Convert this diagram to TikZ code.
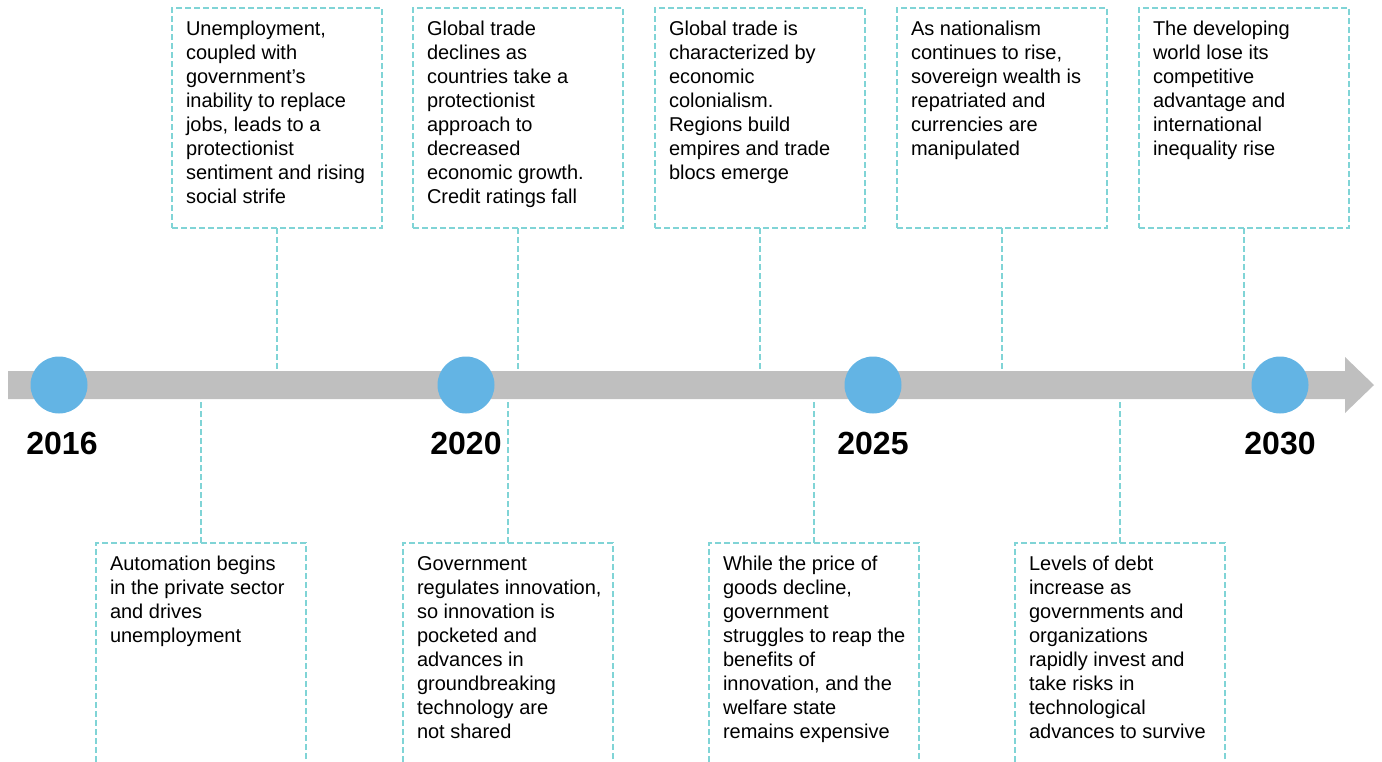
\documentclass[tikz,border=0pt]{standalone}
\usepackage{fontspec}
\setmainfont{Liberation Sans}
\definecolor{bargray}{HTML}{BFBFBF}
\definecolor{dotblue}{HTML}{63B4E4}
\definecolor{dashteal}{HTML}{80D4D6}
\newcommand{\evtext}[2]{\parbox[t][#1][t]{182pt}{\raggedright\hyphenpenalty=10000\rule{0pt}{27.5pt}#2}}

\begin{document}
\begin{tikzpicture}[x=1pt, y=-1pt,
    event/.style={draw=dashteal, line width=1.5pt, dash pattern=on 6pt off 3pt,
        anchor=north west, inner xsep=14pt, inner ysep=0pt, outer sep=0pt,
        font=\fontsize{20}{24}\selectfont},
    link/.style={draw=dashteal, line width=1.5pt, dash pattern=on 6pt off 3pt},
    dot/.style={circle, fill=dotblue, minimum size=57pt, inner sep=0pt},
    year/.style={font=\fontsize{32}{38}\selectfont\bfseries}]
    \useasboundingbox (0,0) rectangle (1382,761);
    \clip (0,0) rectangle (1382,761);
    \coordinate (axis) at (0,385);

    % above the bar
    \node[event](u1) at (172,8)  {\evtext{220pt}{Unemployment,\\ coupled with\\ government’s\\ inability to replace\\ jobs, leads to a\\ protectionist\\ sentiment and rising\\ social strife}};
    \node[event](u2) at (413,8)  {\evtext{220pt}{Global trade\\ declines as\\ countries take a\\ protectionist\\ approach to\\ decreased\\ economic growth.\\ Credit ratings fall}};
    \node[event](u3) at (655,8)  {\evtext{220pt}{Global trade is\\ characterized by\\ economic\\ colonialism.\\ Regions build\\ empires and trade\\ blocs emerge}};
    \node[event](u4) at (897,8)  {\evtext{220pt}{As nationalism\\ continues to rise,\\ sovereign wealth is\\ repatriated and\\ currencies are\\ manipulated}};
    \node[event](u5) at (1139,8) {\evtext{220pt}{The developing\\ world lose its\\ competitive\\ advantage and\\ international\\ inequality rise}};

    % below the bar
    \node[event](l1) at (96,543)   {\evtext{240pt}{Automation begins\\ in the private sector\\ and drives\\ unemployment}};
    \node[event](l2) at (403,543)  {\evtext{240pt}{Government\\ \mbox{regulates innovation,}\\ so innovation is\\ pocketed and\\ advances in\\ groundbreaking\\ technology are\\ not shared}};
    \node[event](l3) at (709,543)  {\evtext{240pt}{While the price of\\ goods decline,\\ government\\ \mbox{struggles to reap the}\\ benefits of\\ innovation, and the\\ welfare state\\ remains expensive}};
    \node[event](l4) at (1015,543) {\evtext{240pt}{Levels of debt\\ increase as\\ governments and\\ organizations\\ rapidly invest and\\ take risks in\\ technological\\ advances to survive}};

    \path
        (u1.south) edge [link] (u1.south |- axis)
        (u2.south) edge [link] (u2.south |- axis)
        (u3.south) edge [link] (u3.south |- axis)
        (u4.south) edge [link] (u4.south |- axis)
        (u5.south) edge [link] (u5.south |- axis)
        (l1.north) edge [link] (l1.north |- axis)
        (l2.north) edge [link] (l2.north |- axis)
        (l3.north) edge [link] (l3.north |- axis)
        (l4.north) edge [link] (l4.north |- axis)
        ;

    % the time bar
    \fill[bargray] (8,371) -- (1345,371) -- (1345,357) -- (1374,385)
        -- (1345,413) -- (1345,399) -- (8,399) -- cycle;

    \node[dot](d16) at (59,385)   {};
    \node[dot](d20) at (466,385)  {};
    \node[dot](d25) at (873,385)  {};
    \node[dot](d30) at (1280,385) {};

    \node[year](y16) at (62,443)   {2016};
    \node[year](y20) at (466,443)  {2020};
    \node[year](y25) at (873,443)  {2025};
    \node[year](y30) at (1280,443) {2030};
\end{tikzpicture}
\end{document}
